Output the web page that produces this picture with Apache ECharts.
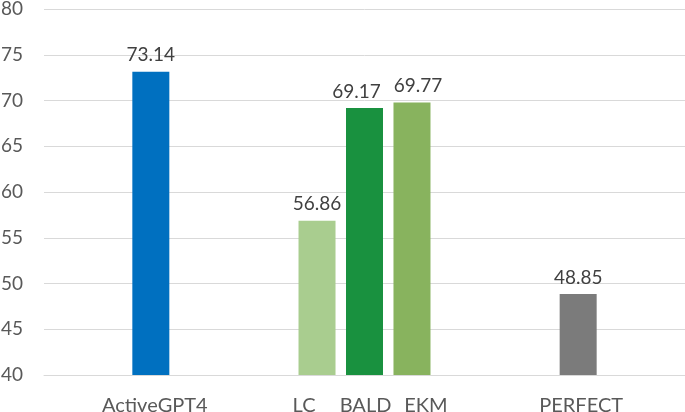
<!DOCTYPE html>
<html>
<head>
<meta charset="utf-8">
<script src="https://cdn.jsdelivr.net/npm/echarts@6/dist/echarts.min.js"></script>
<style>
  html, body { margin: 0; padding: 0; background: #fff; }
  #main { width: 685px; height: 412px; }
</style>
</head>
<body>
<div id="main"></div>
<script>
// values
const names = ['ActiveGPT4', 'LC', 'BALD', 'EKM', 'PERFECT']
const values = [73.14, 56.86, 69.17, 69.77, 48.85]
const barColors = ['#0070C0', '#A9CD8F', '#19913F', '#88B35E', '#7B7B7B']
const yTicks = [40, 45, 50, 55, 60, 65, 70, 75, 80]

// the axis is split in narrow slots so the gaps between groups come out right
const slotCount = 27
const slotOf = [4, 11, 13, 15, 22]
// labels in the original sit a little off their bars
const labelShift = [4, -13, 1, 14, 3]
const valueShift = [0, 0, -8, 6, 0]

const font = 'Lato, "Open Sans", sans-serif'
const categories = new Array(slotCount).fill('')
const barData = new Array(slotCount).fill(null)
names.forEach((n, i) => {
  const s = labelShift[i]
  categories[slotOf[i]] = {
    value: n,
    textStyle: { padding: s > 0 ? [0, 0, 0, 2 * s] : [0, -2 * s, 0, 0] },
  }
  barData[slotOf[i]] = {
    value: values[i],
    itemStyle: { color: barColors[i] },
    label: { offset: [valueShift[i], 0] },
  }
})

const myChart = echarts.init(document.getElementById('main'))
const option = {
  animation: false,
  grid: { left: 44, right: 0, top: 9, bottom: 37, containLabel: false, outerBoundsMode: 'none' },
  xAxis: {
    type: 'category',
    data: categories,
    axisTick: { show: false },
    axisLine: { lineStyle: { color: '#d9d9d9', width: 1 } },
    axisLabel: { interval: 0, color: '#595959', fontSize: 20, fontFamily: font, margin: 21 },
  },
  yAxis: {
    type: 'value',
    min: yTicks[0],
    max: yTicks[yTicks.length - 1],
    interval: yTicks[1] - yTicks[0],
    axisLine: { show: false },
    axisTick: { show: false },
    splitLine: { lineStyle: { color: '#d9d9d9', width: 1 } },
    axisLabel: { color: '#595959', fontSize: 19, fontFamily: font, margin: 21 },
  },
  series: [
    {
      type: 'bar',
      barWidth: 37,
      data: barData,
      label: {
        show: true,
        position: 'top',
        distance: 7,
        color: '#404040',
        fontSize: 19,
        fontFamily: font,
        formatter: (p) => p.value.toFixed(2),
      },
    },
  ],
}
option && myChart.setOption(option)
</script>
</body>
</html>
